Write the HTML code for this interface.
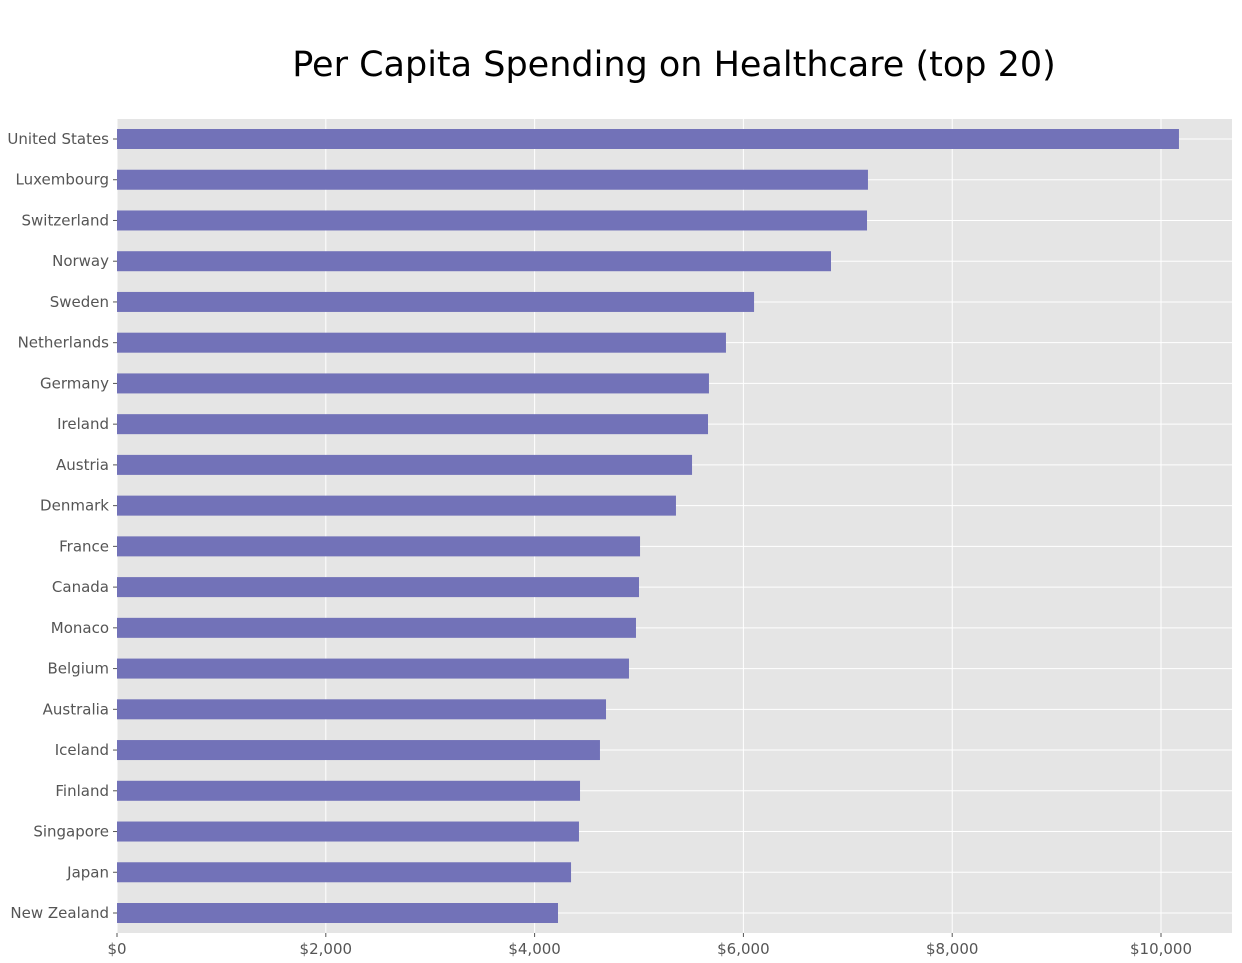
<!DOCTYPE html>
<html><head><meta charset="utf-8"><style>
body{margin:0;background:#fff;}
svg{display:block;font-family:"DejaVu Sans","Liberation Sans",sans-serif;}
</style></head><body>
<svg id="chart" width="1242" height="963">
<text x="674" y="76" text-anchor="middle" font-size="35" fill="#000">Per Capita Spending on Healthcare (top 20)</text>
<rect x="117" y="119" width="1115" height="814" fill="#e5e5e5"/>
<g id="grid"></g><g id="bars"></g><g id="yticks"></g><g id="xticks"></g>
</svg>
<script>
const countries=["United States","Luxembourg","Switzerland","Norway","Sweden","Netherlands","Germany","Ireland","Austria","Denmark","France","Canada","Monaco","Belgium","Australia","Iceland","Finland","Singapore","Japan","New Zealand"];
const spending=[10172,7193,7184,6839,6102,5833,5670,5661,5508,5354,5010,5000,4971,4904,4684,4626,4435,4425,4349,4224];
const xTicks=[0,2000,4000,6000,8000,10000];
const xTickLabels=["$0","$2,000","$4,000","$6,000","$8,000","$10,000"];
const NS="http://www.w3.org/2000/svg";
const x0=117,xMaxVal=10680,plotW=1115;
const xs=v=>x0+v/xMaxVal*plotW;
const ys=i=>139+i*(913-139)/(countries.length-1);
function mk(tag,attrs,parent){const e=document.createElementNS(NS,tag);for(const k in attrs)e.setAttribute(k,attrs[k]);document.getElementById(parent).appendChild(e);return e;}
xTicks.forEach((t,i)=>{
 const l=mk("line",{x1:xs(t),x2:xs(t),y1:119,y2:933,stroke:"#fff","stroke-width":1},"grid");
 
 
 const tk=mk("line",{x1:xs(t),x2:xs(t),y1:933,y2:937,stroke:"#555","stroke-width":1},"xticks");
 
 
 const tx=mk("text",{x:xs(t),y:954,"text-anchor":"middle","font-size":15,fill:"#555"},"xticks");
 tx.textContent=xTickLabels[i];
 
 
});
countries.forEach((c,i)=>{
 const y=ys(i);
 const g=mk("line",{x1:117,x2:1232,y1:y,y2:y,stroke:"#fff","stroke-width":1},"grid");
 
 
 const b=mk("rect",{x:x0,y:y-10,width:xs(spending[i])-x0,height:20,fill:"#7272b8"},"bars");
 
 
 const tk=mk("line",{x1:113,x2:117,y1:y,y2:y,stroke:"#555","stroke-width":1},"yticks");
 
 
 const t=mk("text",{x:109,y:y+5,"text-anchor":"end","font-size":15,fill:"#555"},"yticks");
 t.textContent=c;
 
 
});
</script>
</body></html>
